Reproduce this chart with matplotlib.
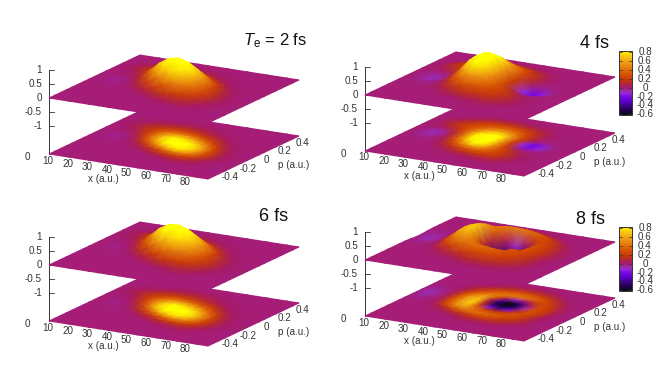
import numpy as np
import matplotlib
matplotlib.use("Agg")
import matplotlib.pyplot as plt
from matplotlib.colors import LinearSegmentedColormap, Normalize
from matplotlib.patches import Rectangle

plt.rcParams['font.family'] = ['Liberation Sans', 'DejaVu Sans']
plt.rcParams['mathtext.fontset'] = 'custom'
plt.rcParams['mathtext.rm'] = 'Liberation Sans'
plt.rcParams['mathtext.it'] = 'Liberation Sans:italic'

W, H = 664, 379

# ---- data ------------------------------------------------------------
x_nodes = [10, 15, 20, 25, 30, 35, 40, 45, 50, 55, 60, 65, 70, 75, 80, 85, 91]
p_nodes = [0.5, 0.4375, 0.375, 0.3125, 0.25, 0.1875, 0.125, 0.0625, 0.0,
           -0.0625, -0.125, -0.1875, -0.25, -0.3125, -0.375, -0.4375, -0.5]

x_ticks = [10, 20, 30, 40, 50, 60, 70, 80]
p_ticks = [-0.4, -0.2, 0.0, 0.2, 0.4]
p_tick_labels = ['-0.4', '-0.2', '0', '0.2', '0.4']
z_ticks = [1, 0.5, 0, -0.5, -1]
z_tick_labels = ['1', '0.5', '0', '-0.5', '-1']
cb_ticks = [0.8, 0.6, 0.4, 0.2, 0, -0.2, -0.4, -0.6]
cb_tick_labels = ['0.8', '0.6', '0.4', '0.2', '0', '-0.2', '-0.4', '-0.6']

# surface values in percent, rows follow p_nodes, columns follow x_nodes
wigner_2fs = [
    [0, 0, 0, 0, 0, 0, 0, 0, 0, 0, 0, 0, 0, 0, 0, 0, 0],
    [0, 0, 0, 0, 0, 1, 1, 1, 1, 0, 0, 0, 0, 0, 0, 0, 0],
    [0, 0, 1, 2, 3, 4, 5, 4, 3, 2, 1, 0, 0, 0, 0, 0, 0],
    [0, 1, 3, 6, 9, 12, 13, 12, 9, 6, 3, 1, 0, 0, 0, 0, 0],
    [0, 2, 6, 11, 16, 23, 28, 27, 21, 14, 8, 3, 1, 0, 0, 0, 0],
    [0, 1, 3, 9, 20, 36, 50, 53, 47, 34, 21, 10, 3, 1, 0, 0, 0],
    [0, 0, 1, 5, 18, 42, 68, 82, 78, 63, 43, 22, 8, 2, 1, 0, 0],
    [0, -1, -3, 0, 10, 36, 70, 93, 100, 90, 68, 42, 18, 5, 1, 0, 0],
    [0, -1, -4, -2, 4, 22, 50, 80, 97, 95, 80, 55, 27, 9, 2, 0, 0],
    [0, 0, -2, -1, 1, 8, 24, 48, 70, 80, 72, 53, 28, 11, 3, 1, 0],
    [0, 0, 0, 0, 0, 2, 7, 18, 33, 45, 48, 40, 25, 11, 4, 1, 0],
    [0, 0, 0, 0, 0, 0, 1, 5, 11, 18, 22, 20, 13, 6, 2, 0, 0],
    [0, 0, 0, 0, 0, 0, 0, 0, 2, 4, 7, 8, 6, 3, 1, 0, 0],
    [0, 0, 0, 0, 0, 0, 0, 0, 0, 0, 1, 2, 2, 1, 0, 0, 0],
    [0, 0, 0, 0, 0, 0, 0, 0, 0, 0, 0, 0, 0, 0, 0, 0, 0],
    [0, 0, 0, 0, 0, 0, 0, 0, 0, 0, 0, 0, 0, 0, 0, 0, 0],
    [0, 0, 0, 0, 0, 0, 0, 0, 0, 0, 0, 0, 0, 0, 0, 0, 0],
]

wigner_4fs = [
    [0, 0, 0, 0, 0, 0, 0, 0, 0, 0, 0, 0, 0, 0, 0, 0, 0],
    [0, 0, 0, 0, 1, 2, 2, 2, 1, 1, 0, 0, 0, 0, 0, 0, 0],
    [0, 0, 0, 2, 5, 8, 10, 10, 8, 5, 3, 1, 0, 0, 0, 0, 0],
    [0, 0, 3, 8, 16, 22, 25, 26, 23, 17, 11, 5, 1, 0, 0, 0, 0],
    [0, 2, 9, 16, 24, 30, 38, 42, 40, 31, 19, 9, 3, 0, 0, 0, 0],
    [0, 2, 8, 17, 26, 39, 56, 68, 62, 44, 25, 11, 2, 0, 0, 0, 0],
    [0, 1, 1, 8, 22, 46, 76, 92, 84, 56, 28, 8, -2, -2, 0, 0, 0],
    [0, -2, -7, -3, 12, 44, 84, 103, 94, 56, 20, -10, -22, -14, -4, 0, 0],
    [0, -3, -9, -6, 8, 40, 80, 101, 92, 55, 22, -8, -20, -12, -3, 0, 0],
    [0, -2, -5, -2, 6, 28, 60, 84, 78, 50, 26, 9, -2, -2, 0, 0, 0],
    [0, 0, -1, -2, 4, 16, 36, 53, 56, 44, 30, 18, 7, 2, 0, 0, 0],
    [0, 0, 0, 0, 1, 7, 15, 26, 33, 31, 26, 19, 10, 3, 1, 0, 0],
    [0, 0, 0, 0, 0, 2, 6, 11, 15, 17, 17, 15, 8, 3, 1, 0, 0],
    [0, 0, 0, 0, 0, 0, 1, 2, 4, 5, 7, 7, 4, 2, 0, 0, 0],
    [0, 0, 0, 0, 0, 0, 0, 0, 0, 1, 1, 1, 1, 0, 0, 0, 0],
    [0, 0, 0, 0, 0, 0, 0, 0, 0, 0, 0, 0, 0, 0, 0, 0, 0],
    [0, 0, 0, 0, 0, 0, 0, 0, 0, 0, 0, 0, 0, 0, 0, 0, 0],
]

wigner_6fs = [
    [0, 0, 0, 0, 0, 0, 0, 0, 0, 0, 0, 0, 0, 0, 0, 0, 0],
    [0, 0, 0, 0, 0, 1, 1, 1, 1, 0, 0, 0, 0, 0, 0, 0, 0],
    [0, 0, 1, 2, 3, 4, 5, 5, 4, 2, 1, 0, 0, 0, 0, 0, 0],
    [0, 1, 3, 6, 10, 13, 14, 12, 9, 6, 3, 1, 0, 0, 0, 0, 0],
    [0, 2, 6, 12, 18, 25, 30, 28, 21, 14, 8, 3, 1, 0, 0, 0, 0],
    [0, 1, 3, 10, 23, 40, 53, 55, 47, 34, 21, 10, 3, 1, 0, 0, 0],
    [0, 0, 1, 6, 22, 48, 72, 84, 78, 62, 42, 22, 8, 2, 1, 0, 0],
    [0, -1, -2, 1, 14, 42, 76, 96, 100, 88, 66, 41, 18, 5, 1, 0, 0],
    [0, -1, -3, -1, 6, 26, 56, 84, 97, 93, 78, 53, 26, 9, 2, 0, 0],
    [0, 0, -2, -1, 1, 10, 27, 52, 72, 79, 71, 52, 27, 11, 3, 1, 0],
    [0, 0, 0, 0, 0, 2, 8, 20, 35, 46, 48, 39, 24, 11, 4, 1, 0],
    [0, 0, 0, 0, 0, 0, 1, 5, 12, 18, 22, 20, 13, 6, 2, 0, 0],
    [0, 0, 0, 0, 0, 0, 0, 0, 2, 4, 7, 8, 6, 3, 1, 0, 0],
    [0, 0, 0, 0, 0, 0, 0, 0, 0, 0, 1, 2, 2, 1, 0, 0, 0],
    [0, 0, 0, 0, 0, 0, 0, 0, 0, 0, 0, 0, 0, 0, 0, 0, 0],
    [0, 0, 0, 0, 0, 0, 0, 0, 0, 0, 0, 0, 0, 0, 0, 0, 0],
    [0, 0, 0, 0, 0, 0, 0, 0, 0, 0, 0, 0, 0, 0, 0, 0, 0],
]

wigner_8fs = [
    [0, 0, 0, 0, 0, 0, 0, 0, 0, 0, 0, 0, 0, 0, 0, 0, 0],
    [0, 0, 0, 0, 0, 0, 1, 2, 2, 2, 1, 1, 0, 0, 0, 0, 0],
    [0, 0, 0, 0, 1, 3, 7, 11, 13, 12, 9, 5, 1, 0, 0, 0, 0],
    [0, 0, 0, 1, 5, 14, 24, 30, 33, 32, 27, 18, 9, 2, 0, 0, 0],
    [0, -1, 0, 3, 12, 27, 38, 43, 46, 45, 41, 33, 21, 8, 1, 0, 0],
    [-1, -4, -3, 3, 24, 43, 55, 38, 5, -12, 2, 25, 27, 15, 4, 0, 0],
    [-3, -8, -4, 6, 30, 58, 66, 8, -40, -62, -42, 2, 28, 20, 6, 0, 0],
    [-3, -8, -5, 6, 32, 60, 74, 10, -50, -75, -55, -8, 29, 22, 7, 1, 0],
    [-1, -4, -2, 5, 30, 58, 72, 25, -18, -42, -22, 12, 30, 20, 6, 0, 0],
    [0, -2, -1, 3, 22, 46, 58, 44, 25, 14, 20, 31, 26, 14, 3, 0, 0],
    [0, 0, 0, 1, 6, 20, 36, 42, 42, 38, 34, 29, 23, 11, 3, 0, 0],
    [0, 0, 0, 0, 1, 5, 10, 18, 25, 28, 26, 20, 14, 8, 2, 0, 0],
    [0, 0, 0, 0, 0, 0, 2, 5, 9, 11, 11, 9, 7, 3, 1, 0, 0],
    [0, 0, 0, 0, 0, 0, 0, 1, 2, 3, 3, 3, 2, 1, 0, 0, 0],
    [0, 0, 0, 0, 0, 0, 0, 0, 0, 0, 0, 0, 0, 0, 0, 0, 0],
    [0, 0, 0, 0, 0, 0, 0, 0, 0, 0, 0, 0, 0, 0, 0, 0, 0],
    [0, 0, 0, 0, 0, 0, 0, 0, 0, 0, 0, 0, 0, 0, 0, 0, 0],
]

panel_values = [wigner_2fs, wigner_4fs, wigner_6fs, wigner_8fs]
panel_titles = ['$T_{\\mathrm{e}}$ = 2 fs', '4 fs', '6 fs', '8 fs']

# ---- style / layout --------------------------------------------------
# left corner x, y of z=0 at that corner, title x, title y, title size, colourbar?
panel_layout = [
    (49, 98, 275, 41, 12, False),
    (365, 95, 594, 43, 13, True),
    (49, 265, 274, 216, 13, False),
    (365, 260, 591, 219, 13, True),
]
cells = [(0, 0, 332, 190), (332, 0, 664, 190), (0, 190, 332, 379), (332, 190, 664, 379)]

EX = (159.0, 25.0)    # screen vector along the whole x range
EP = (91.0, -43.0)    # screen vector along the whole p range
ZPX = 28.0            # pixels per z unit
ZBASE = -2.0
XMIN, XMAX = 10.0, 91.0
TICK = '#333333'
TFS = 7.1

stops = [(-0.62, '#0c0812'), (-0.5, '#260050'), (-0.4, '#3c0090'), (-0.3, '#5c00cc'),
         (-0.2, '#7a08f0'), (-0.1, '#9a30c4'), (-0.02, '#a31f80'), (0.03, '#a81a66'),
         (0.1, '#b42a30'), (0.2, '#c83a08'), (0.3, '#d65004'), (0.4, '#e06c08'),
         (0.5, '#e98a10'), (0.6, '#f0a418'), (0.7, '#f8c410'), (0.8, '#fde804'),
         (0.85, '#ffff00')]
VMIN, VMAX = -0.62, 0.85
cmap = LinearSegmentedColormap.from_list(
    'wigner', [((v - VMIN) / (VMAX - VMIN), c) for v, c in stops], N=512)
norm = Normalize(VMIN, VMAX)


def project(x, p, z, left, zero):
    s = (np.asarray(x, float) - XMIN) / (XMAX - XMIN)
    t = np.asarray(p, float) + 0.5
    u = left + EX[0] * s + EP[0] * t
    v = zero + EX[1] * s + EP[1] * t - ZPX * np.asarray(z, float)
    return u, v


fig = plt.figure(figsize=(W / 100, H / 100), dpi=100)
fig.patch.set_facecolor('white')

X, P = np.meshgrid(x_nodes, p_nodes)

for values, title, (left, zero, tx, ty, tfs, has_cb), cell in zip(
        panel_values, panel_titles, panel_layout, cells):
    cx0, cy0, cx1, cy1 = cell
    ax = fig.add_axes([cx0 / W, 1 - cy1 / H, (cx1 - cx0) / W, (cy1 - cy0) / H])
    ax.set_xlim(cx0, cx1)
    ax.set_ylim(cy1, cy0)
    ax.axis('off')
    Z = np.array(values, float) / 100.0

    # z axis
    zu, zv1 = project(XMIN, -0.5, 1, left, zero)
    _, zv2 = project(XMIN, -0.5, ZBASE, left, zero)
    ax.plot([left, left], [zv1, zv2], color=TICK, lw=0.7, zorder=1)
    for zt, zl in zip(z_ticks, z_tick_labels):
        _, vv = project(XMIN, -0.5, zt, left, zero)
        ax.plot([left, left + 4.5], [vv, vv], color=TICK, lw=0.6, zorder=1)
        ax.text(left - 7, vv, zl, ha='right', va='center', fontsize=TFS, color=TICK)
    ax.text(left - 22, zero + 59, '0', ha='center', va='center', fontsize=TFS, color=TICK)

    # projected map at the base, then surface (rows run from back to front)
    bu, bv = project(X, P, ZBASE, left, zero)
    ax.pcolormesh(bu, bv, Z, shading='gouraud', cmap=cmap, norm=norm, zorder=2)
    su, sv = project(X, P, Z, left, zero)
    ax.pcolormesh(su, sv, Z, shading='gouraud', cmap=cmap, norm=norm, zorder=3)
    ax.set_xlim(cx0, cx1)
    ax.set_ylim(cy1, cy0)

    # axis tick labels
    for xt in x_ticks:
        u, v = project(xt, -0.5, ZBASE, left, zero)
        ax.text(u - 1, v + 6.5, str(xt), ha='center', va='center', fontsize=TFS, color=TICK)
    for pt, pl in zip(p_ticks, p_tick_labels):
        u, v = project(XMAX, pt, ZBASE, left, zero)
        ax.text(u + 13, v + 2.5, pl, ha='center', va='center', fontsize=TFS, color=TICK)
    ax.text(left + 54, zero + 81, 'x (a.u.)', ha='center', va='center', fontsize=TFS, color=TICK)
    ax.text(left + 245, zero + 67, 'p (a.u.)', ha='center', va='center', fontsize=TFS, color=TICK)

    ax.text(tx, ty, title, ha='center', va='center', fontsize=tfs, color='#111111')

    if has_cb:
        bar_top = ty + 8
        levels = np.linspace(VMAX - 0.02, VMIN + 0.01, 150)
        ys = bar_top + 1 + (0.8 - levels) * 44.5
        ax.pcolormesh([cx0 + 287, cx0 + 300], ys, levels[:-1, None],
                      cmap=cmap, norm=norm, shading='flat', zorder=4)
        ax.add_patch(Rectangle((cx0 + 287, ys[0]), 13, ys[-1] - ys[0], fill=False,
                               edgecolor=TICK, lw=0.7, zorder=5))
        for cv, cl in zip(cb_ticks, cb_tick_labels):
            yy = bar_top + 1 + (0.8 - cv) * 44.5
            ax.plot([cx0 + 287, cx0 + 290], [yy, yy], color=TICK, lw=0.5, zorder=5)
            ax.plot([cx0 + 297, cx0 + 300], [yy, yy], color=TICK, lw=0.5, zorder=5)
            ax.text(cx0 + 313, yy, cl, ha='center', va='center', fontsize=TFS, color=TICK)
        ax.set_xlim(cx0, cx1)
        ax.set_ylim(cy1, cy0)

fig.savefig('out.png', dpi=100)
